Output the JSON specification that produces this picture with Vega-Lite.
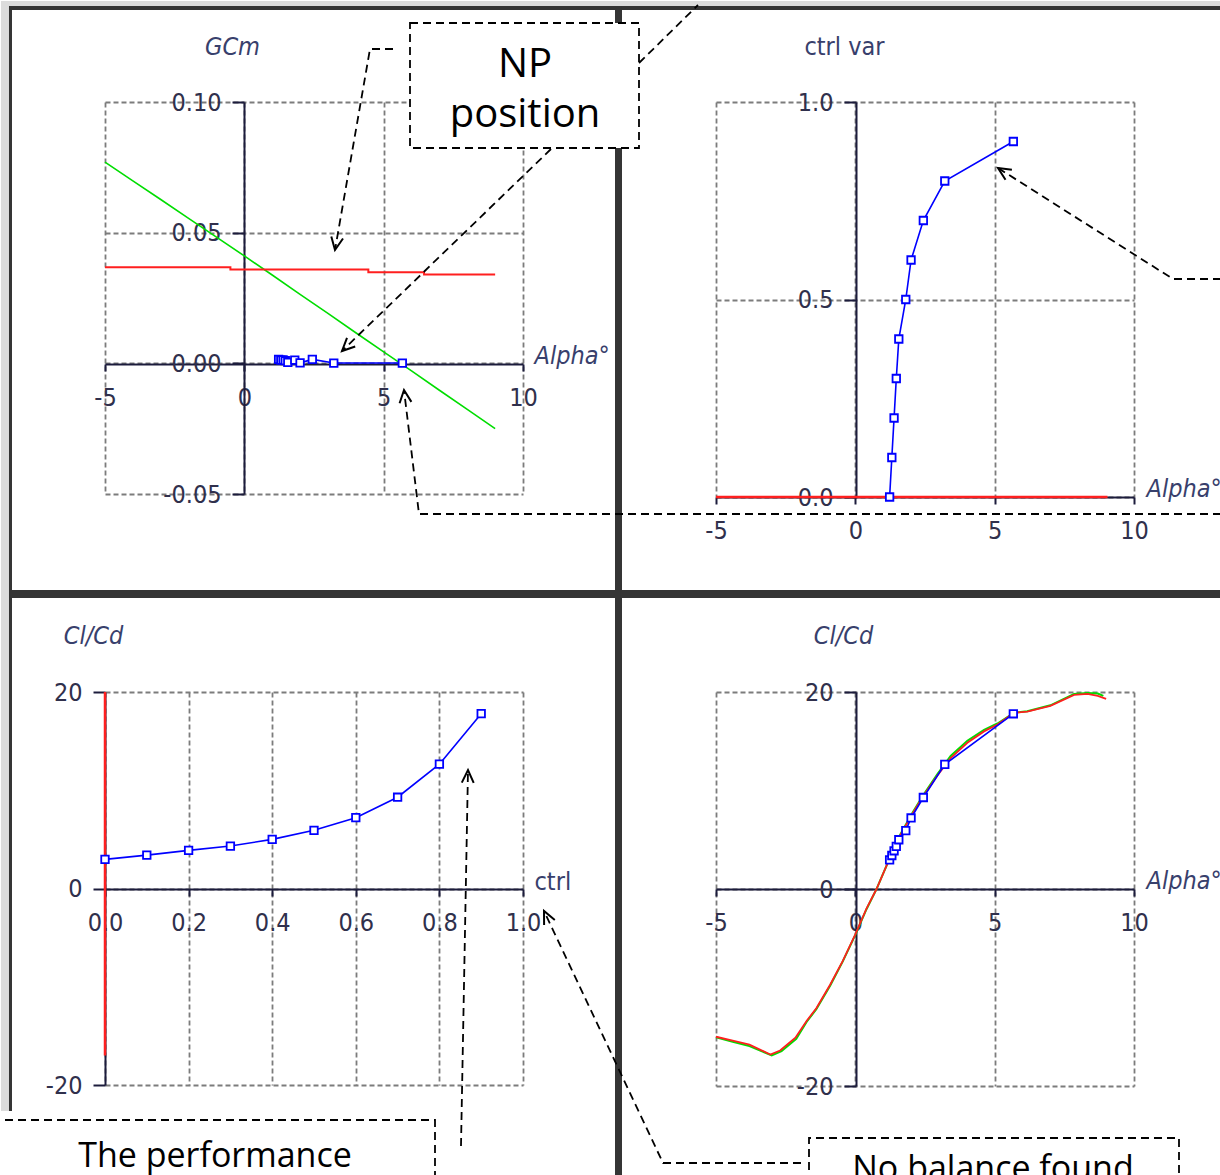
{
  "$schema": "https://vega.github.io/schema/vega-lite/v6.json",
  "padding": 0,
  "autosize": {"type": "pad"},
  "background": "white",
  "columns": 2,
  "spacing": {"row": 195, "column": 193},
  "bounds": "flush",
  "config": {
    "view": {"stroke": null},
    "axis": {
      "domainColor": "#1c1c3c", "domainWidth": 2, "tickColor": "#1c1c3c", "tickWidth": 2,
      "gridColor": "#7c7c7c", "gridDash": [5, 3], "gridWidth": 1.8,
      "labelFont": "DejaVu Sans Condensed", "labelFontSize": 25, "labelColor": "#30304c",
      "labelFlush": false, "labelOverlap": false, "labelBound": false,
      "titleFont": "DejaVu Sans Condensed", "titleFontSize": 25, "titleFontWeight": "normal",
      "titleColor": "#38406c", "titleAngle": 0
    },
    "axisX": {"tickSize": 7, "labelPadding": 14, "titleAlign": "left", "titleBaseline": "alphabetic"},
    "axisY": {"tickSize": 12, "labelPadding": 11, "titleAlign": "center", "titleBaseline": "middle"}
  },
  "datasets": {
    "pts": [
      {"ctrl": 0.0, "alpha": 1.23, "gcm": 0.0015, "clcd": 2.96},
      {"ctrl": 0.1, "alpha": 1.31, "gcm": 0.0012, "clcd": 3.40},
      {"ctrl": 0.2, "alpha": 1.39, "gcm": 0.0013, "clcd": 3.88},
      {"ctrl": 0.3, "alpha": 1.47, "gcm": 0.0010, "clcd": 4.32},
      {"ctrl": 0.4, "alpha": 1.56, "gcm": 0.0004, "clcd": 5.00},
      {"ctrl": 0.5, "alpha": 1.81, "gcm": 0.0012, "clcd": 5.92},
      {"ctrl": 0.6, "alpha": 2.00, "gcm": 0.0002, "clcd": 7.21},
      {"ctrl": 0.7, "alpha": 2.44, "gcm": 0.0015, "clcd": 9.29},
      {"ctrl": 0.8, "alpha": 3.21, "gcm": 0.0001, "clcd": 12.65},
      {"ctrl": 0.9, "alpha": 5.67, "gcm": 0.0001, "clcd": 17.79}
    ],
    "p1c": [
      {"s": "g", "i": 0, "alpha": -5, "cm": 0.0770},
      {"s": "g", "i": 1, "alpha": -4, "cm": 0.0698},
      {"s": "g", "i": 2, "alpha": -3, "cm": 0.0627},
      {"s": "g", "i": 3, "alpha": -2, "cm": 0.0555},
      {"s": "g", "i": 4, "alpha": -1, "cm": 0.0483},
      {"s": "g", "i": 5, "alpha": 0, "cm": 0.0411},
      {"s": "g", "i": 6, "alpha": 1, "cm": 0.0338},
      {"s": "g", "i": 7, "alpha": 2, "cm": 0.0264},
      {"s": "g", "i": 8, "alpha": 3, "cm": 0.0191},
      {"s": "g", "i": 9, "alpha": 4, "cm": 0.0117},
      {"s": "g", "i": 10, "alpha": 5, "cm": 0.0044},
      {"s": "g", "i": 11, "alpha": 6, "cm": -0.0029},
      {"s": "g", "i": 12, "alpha": 7, "cm": -0.0103},
      {"s": "g", "i": 13, "alpha": 8, "cm": -0.0176},
      {"s": "g", "i": 14, "alpha": 9, "cm": -0.0250},
      {"s": "r", "i": 0, "alpha": -5, "cm": 0.0368},
      {"s": "r", "i": 1, "alpha": -0.5, "cm": 0.0368},
      {"s": "r", "i": 2, "alpha": -0.5, "cm": 0.0359},
      {"s": "r", "i": 3, "alpha": 4.45, "cm": 0.0359},
      {"s": "r", "i": 4, "alpha": 4.45, "cm": 0.0349},
      {"s": "r", "i": 5, "alpha": 6.45, "cm": 0.0349},
      {"s": "r", "i": 6, "alpha": 6.45, "cm": 0.0340},
      {"s": "r", "i": 7, "alpha": 9.0, "cm": 0.0340}
    ],
    "p4c": [
      {"s": "g", "i": 0, "alpha": -5.0, "clcd": -15.05},
      {"s": "g", "i": 1, "alpha": -4.4, "clcd": -15.5},
      {"s": "g", "i": 2, "alpha": -3.8, "clcd": -15.95},
      {"s": "g", "i": 3, "alpha": -3.0, "clcd": -16.9},
      {"s": "g", "i": 4, "alpha": -2.65, "clcd": -16.45},
      {"s": "g", "i": 5, "alpha": -2.12, "clcd": -15.2},
      {"s": "g", "i": 6, "alpha": -1.75, "clcd": -13.5},
      {"s": "g", "i": 7, "alpha": -1.4, "clcd": -12.2},
      {"s": "g", "i": 8, "alpha": -0.9, "clcd": -9.8},
      {"s": "g", "i": 9, "alpha": -0.45, "clcd": -7.35},
      {"s": "g", "i": 10, "alpha": 0.0, "clcd": -4.65},
      {"s": "g", "i": 11, "alpha": 0.4, "clcd": -2.05},
      {"s": "g", "i": 12, "alpha": 0.76, "clcd": -0.02},
      {"s": "g", "i": 13, "alpha": 1.14, "clcd": 2.5},
      {"s": "g", "i": 14, "alpha": 1.56, "clcd": 5.25},
      {"s": "g", "i": 15, "alpha": 2.04, "clcd": 7.7},
      {"s": "g", "i": 16, "alpha": 2.44, "clcd": 9.55},
      {"s": "g", "i": 17, "alpha": 2.94, "clcd": 11.65},
      {"s": "g", "i": 18, "alpha": 3.42, "clcd": 13.5},
      {"s": "g", "i": 19, "alpha": 4.02, "clcd": 15.05},
      {"s": "g", "i": 20, "alpha": 4.62, "clcd": 16.15},
      {"s": "g", "i": 21, "alpha": 5.1, "clcd": 16.8},
      {"s": "g", "i": 22, "alpha": 5.7, "clcd": 17.9},
      {"s": "g", "i": 23, "alpha": 6.17, "clcd": 18.05},
      {"s": "g", "i": 24, "alpha": 7.0, "clcd": 18.65},
      {"s": "g", "i": 25, "alpha": 7.85, "clcd": 19.8},
      {"s": "g", "i": 26, "alpha": 8.33, "clcd": 19.9},
      {"s": "g", "i": 27, "alpha": 8.7, "clcd": 19.85},
      {"s": "g", "i": 28, "alpha": 8.9, "clcd": 19.6},
      {"s": "r", "i": 0, "alpha": -5.0, "clcd": -15.0},
      {"s": "r", "i": 1, "alpha": -4.4, "clcd": -15.4},
      {"s": "r", "i": 2, "alpha": -3.8, "clcd": -15.8},
      {"s": "r", "i": 3, "alpha": -3.05, "clcd": -16.8},
      {"s": "r", "i": 4, "alpha": -2.7, "clcd": -16.4},
      {"s": "r", "i": 5, "alpha": -2.15, "clcd": -15.1},
      {"s": "r", "i": 6, "alpha": -1.75, "clcd": -13.4},
      {"s": "r", "i": 7, "alpha": -1.4, "clcd": -12.1},
      {"s": "r", "i": 8, "alpha": -0.9, "clcd": -9.7},
      {"s": "r", "i": 9, "alpha": -0.45, "clcd": -7.3},
      {"s": "r", "i": 10, "alpha": 0.0, "clcd": -4.6},
      {"s": "r", "i": 11, "alpha": 0.4, "clcd": -2.0},
      {"s": "r", "i": 12, "alpha": 0.76, "clcd": 0.0},
      {"s": "r", "i": 13, "alpha": 1.14, "clcd": 2.5},
      {"s": "r", "i": 14, "alpha": 1.56, "clcd": 5.2},
      {"s": "r", "i": 15, "alpha": 2.04, "clcd": 7.6},
      {"s": "r", "i": 16, "alpha": 2.44, "clcd": 9.44},
      {"s": "r", "i": 17, "alpha": 2.94, "clcd": 11.5},
      {"s": "r", "i": 18, "alpha": 3.42, "clcd": 13.3},
      {"s": "r", "i": 19, "alpha": 4.02, "clcd": 14.85},
      {"s": "r", "i": 20, "alpha": 4.62, "clcd": 16.0},
      {"s": "r", "i": 21, "alpha": 5.1, "clcd": 16.7},
      {"s": "r", "i": 22, "alpha": 5.7, "clcd": 17.9},
      {"s": "r", "i": 23, "alpha": 6.17, "clcd": 18.0},
      {"s": "r", "i": 24, "alpha": 7.0, "clcd": 18.6},
      {"s": "r", "i": 25, "alpha": 7.85, "clcd": 19.7},
      {"s": "r", "i": 26, "alpha": 8.33, "clcd": 19.8},
      {"s": "r", "i": 27, "alpha": 8.7, "clcd": 19.6},
      {"s": "r", "i": 28, "alpha": 9.0, "clcd": 19.3}
    ],
    "z2": [{"alpha": -5, "v": 0}, {"alpha": 9.05, "v": 0}],
    "z3": [{"ctrl": 0, "v": 20, "i": 0}, {"ctrl": 0, "v": -17, "i": 1}],
    "frame": [
      {"k": "g", "x": -8.7321, "x2": 35.0479, "y": 0.138648, "y2": 0.136735},
      {"k": "g", "x": -8.7321, "x2": -8.445, "y": 0.138648, "y2": -0.286097},
      {"k": "d", "x": -8.445, "x2": 35.0479, "y": 0.136735, "y2": 0.135204},
      {"k": "d", "x": -8.445, "x2": -8.3373, "y": 0.136735, "y2": -0.286097},
      {"k": "d", "x": 13.3015, "x2": 13.5526, "y": 0.136735, "y2": -0.310969},
      {"k": "d", "x": -8.445, "x2": 35.0479, "y": -0.086735, "y2": -0.089796}
    ],
    "npbox": [{"x": 5.945, "x2": 14.1627, "y": 0.13023, "y2": 0.082398}],
    "t1": [{"t": "NP", "x": 10.0718, "y": 0.109566}, {"t": "position", "x": 10.0718, "y": 0.090625}],
    "d1": [
      {"p": "a", "i": 0, "x": 5.3349, "y": 0.120281}, {"p": "a", "i": 1, "x": 4.5096, "y": 0.120281}, {"p": "a", "i": 2, "x": 3.2536, "y": 0.043367},
      {"p": "b", "i": 0, "x": 11.0048, "y": 0.082015}, {"p": "b", "i": 1, "x": 3.5048, "y": 0.004719},
      {"p": "c", "i": 0, "x": 14.1627, "y": 0.114923}, {"p": "c", "i": 1, "x": 16.2799, "y": 0.137117},
      {"p": "d", "i": 0, "x": 35.0479, "y": -0.057653}, {"p": "d", "i": 1, "x": 6.268, "y": -0.057653}, {"p": "d", "i": 2, "x": 5.7297, "y": -0.010204}
    ],
    "h1": [
      {"p": "a", "i": 0, "x": 3.5407, "y": 0.047768}, {"p": "a", "i": 1, "x": 3.2536, "y": 0.043367}, {"p": "a", "i": 2, "x": 3.1209, "y": 0.048533},
      {"p": "b", "i": 0, "x": 3.9785, "y": 0.006441}, {"p": "b", "i": 1, "x": 3.5048, "y": 0.004719}, {"p": "b", "i": 2, "x": 3.6842, "y": 0.009732},
      {"p": "d", "i": 0, "x": 5.5718, "y": -0.015294}, {"p": "d", "i": 1, "x": 5.7297, "y": -0.010204}, {"p": "d", "i": 2, "x": 5.9952, "y": -0.014758}
    ],
    "d2": [{"p": "e", "i": 0, "x": 13.122, "y": 0.5519}, {"p": "e", "i": 1, "x": 11.3995, "y": 0.5519}, {"p": "e", "i": 2, "x": 5.1196, "y": 0.83291}],
    "h2": [{"p": "e", "i": 0, "x": 5.3888, "y": 0.80304}, {"p": "e", "i": 1, "x": 5.1196, "y": 0.83291}, {"p": "e", "i": 2, "x": 5.6184, "y": 0.82835}],
    "d3": [
      {"p": "f", "i": 0, "x": 0.85167, "y": -26.209}, {"p": "f", "i": 1, "x": 0.86842, "y": 12.061},
      {"p": "g", "i": 0, "x": 1.66507, "y": -27.939}, {"p": "g", "i": 1, "x": 1.33493, "y": -27.939}, {"p": "g", "i": 2, "x": 1.05024, "y": -2.29},
      {"p": "box", "i": 0, "x": -0.23923, "y": -23.562}, {"p": "box", "i": 1, "x": 0.78947, "y": -23.562}, {"p": "box", "i": 2, "x": 0.78947, "y": -29.771}
    ],
    "h3": [
      {"p": "f", "i": 0, "x": 0.85359, "y": 10.779}, {"p": "f", "i": 1, "x": 0.86842, "y": 12.061}, {"p": "f", "i": 2, "x": 0.88206, "y": 10.758},
      {"p": "g", "i": 0, "x": 1.05048, "y": -3.715}, {"p": "g", "i": 1, "x": 1.05024, "y": -2.29}, {"p": "g", "i": 2, "x": 1.07608, "y": -3.196}
    ],
    "t3": [{"t": "The performance", "x": 0.26316, "y": -28.346}],
    "d4": [
      {"p": "box", "i": 0, "x": -1.6627, "y": -31.168}, {"p": "box", "i": 1, "x": -1.6627, "y": -25.279},
      {"p": "box", "i": 2, "x": 11.6148, "y": -25.279}, {"p": "box", "i": 3, "x": 11.6148, "y": -31.168}
    ],
    "t4": [{"t": "No balance found", "x": 4.9402, "y": -29.543}]
  },
  "concat": [
    {
      "width": 418, "height": 392,
      "layer": [
        {
          "data": {"name": "frame"},
          "mark": {"type": "rect", "clip": false},
          "encoding": {
            "x": {"field": "x", "type": "quantitative", "scale": {"domain": [-5, 10], "nice": false, "zero": false},
                  "axis": {"offset": -130, "values": [-5, 0, 5, 10], "title": "Alpha°", "titleX": 429, "titleY": -1, "titleFontStyle": "italic",
                           "labelExpr": "replace(format(datum.value, 'd'), '\u2212', '-')"}},
            "x2": {"field": "x2"},
            "y": {"field": "y", "type": "quantitative", "scale": {"domain": [-0.05, 0.1], "nice": false, "zero": false},
                  "axis": {"offset": -139, "values": [-0.05, 0, 0.05, 0.1], "title": "GCm", "titleX": -12, "titleY": -56, "titleFontStyle": "italic",
                           "labelExpr": "replace(format(datum.value, '.2f'), '\u2212', '-')"}},
            "y2": {"field": "y2"},
            "color": {"field": "k", "type": "nominal", "scale": {"domain": ["g", "d"], "range": ["#dcdcdc", "#353535"]}, "legend": null}
          }
        },
        {
          "data": {"name": "p1c"},
          "transform": [{"filter": {"field": "s", "equal": "g"}}],
          "mark": {"type": "line", "color": "#00dd00", "strokeWidth": 1.6, "clip": false},
          "encoding": {
            "x": {"field": "alpha", "type": "quantitative", "scale": {"domain": [-5, 10], "nice": false, "zero": false}},
            "y": {"field": "cm", "type": "quantitative", "scale": {"domain": [-0.05, 0.1], "nice": false, "zero": false}},
            "order": {"field": "i"}
          }
        },
        {
          "data": {"name": "p1c"},
          "transform": [{"filter": {"field": "s", "equal": "r"}}],
          "mark": {"type": "line", "color": "#ff1f1f", "strokeWidth": 2, "clip": false},
          "encoding": {
            "x": {"field": "alpha", "type": "quantitative", "scale": {"domain": [-5, 10], "nice": false, "zero": false}},
            "y": {"field": "cm", "type": "quantitative", "scale": {"domain": [-0.05, 0.1], "nice": false, "zero": false}},
            "order": {"field": "i"}
          }
        },
        {
          "data": {"name": "pts"},
          "mark": {"type": "line", "color": "#0000ff", "strokeWidth": 1.6},
          "encoding": {
            "x": {"field": "alpha", "type": "quantitative", "scale": {"domain": [-5, 10], "nice": false, "zero": false}},
            "y": {"field": "gcm", "type": "quantitative", "scale": {"domain": [-0.05, 0.1], "nice": false, "zero": false}},
            "order": {"field": "ctrl"}
          }
        },
        {
          "data": {"name": "pts"},
          "mark": {"type": "point", "shape": "square", "size": 56, "filled": false, "fill": "white", "fillOpacity": 1, "stroke": "#0000ff", "strokeWidth": 1.8, "opacity": 1},
          "encoding": {
            "x": {"field": "alpha", "type": "quantitative", "scale": {"domain": [-5, 10], "nice": false, "zero": false}},
            "y": {"field": "gcm", "type": "quantitative", "scale": {"domain": [-0.05, 0.1], "nice": false, "zero": false}}
          }
        },
        {
          "data": {"name": "npbox"},
          "mark": {"type": "rect", "fill": "white", "stroke": "black", "strokeWidth": 1.8, "strokeDash": [8, 5], "clip": false},
          "encoding": {
            "x": {"field": "x", "type": "quantitative", "scale": {"domain": [-5, 10], "nice": false, "zero": false}},
            "x2": {"field": "x2"},
            "y": {"field": "y", "type": "quantitative", "scale": {"domain": [-0.05, 0.1], "nice": false, "zero": false}},
            "y2": {"field": "y2"}
          }
        },
        {
          "data": {"name": "t1"},
          "mark": {"type": "text", "font": "Open Sans", "fontSize": 40, "align": "center", "baseline": "alphabetic", "color": "black", "clip": false},
          "encoding": {
            "x": {"field": "x", "type": "quantitative", "scale": {"domain": [-5, 10], "nice": false, "zero": false}},
            "y": {"field": "y", "type": "quantitative", "scale": {"domain": [-0.05, 0.1], "nice": false, "zero": false}},
            "text": {"field": "t"}
          }
        },
        {
          "data": {"name": "d1"},
          "mark": {"type": "line", "color": "black", "strokeWidth": 1.8, "strokeDash": [8, 5], "clip": false},
          "encoding": {
            "x": {"field": "x", "type": "quantitative", "scale": {"domain": [-5, 10], "nice": false, "zero": false}},
            "y": {"field": "y", "type": "quantitative", "scale": {"domain": [-0.05, 0.1], "nice": false, "zero": false}},
            "detail": {"field": "p"},
            "order": {"field": "i"}
          }
        },
        {
          "data": {"name": "h1"},
          "mark": {"type": "line", "color": "black", "strokeWidth": 2, "clip": false},
          "encoding": {
            "x": {"field": "x", "type": "quantitative", "scale": {"domain": [-5, 10], "nice": false, "zero": false}},
            "y": {"field": "y", "type": "quantitative", "scale": {"domain": [-0.05, 0.1], "nice": false, "zero": false}},
            "detail": {"field": "p"},
            "order": {"field": "i"}
          }
        }
      ]
    },
    {
      "width": 418, "height": 395,
      "layer": [
        {
          "data": {"name": "z2"},
          "mark": {"type": "line", "color": "#ff1f1f", "strokeWidth": 2.5},
          "encoding": {
            "x": {"field": "alpha", "type": "quantitative", "scale": {"domain": [-5, 10], "nice": false, "zero": false},
                  "axis": {"offset": 0, "values": [-5, 0, 5, 10], "title": "Alpha°", "titleX": 430, "titleY": -1, "titleFontStyle": "italic",
                           "labelExpr": "replace(format(datum.value, 'd'), '\u2212', '-')"}},
            "y": {"field": "v", "type": "quantitative", "scale": {"domain": [0, 1], "nice": false, "zero": false},
                  "axis": {"offset": -140, "values": [0, 0.5, 1], "title": "ctrl var", "titleX": -12, "titleY": -56,
                           "labelExpr": "replace(format(datum.value, '.1f'), '\u2212', '-')"}}
          }
        },
        {
          "data": {"name": "pts"},
          "mark": {"type": "line", "color": "#0000ff", "strokeWidth": 1.6},
          "encoding": {
            "x": {"field": "alpha", "type": "quantitative", "scale": {"domain": [-5, 10], "nice": false, "zero": false}},
            "y": {"field": "ctrl", "type": "quantitative", "scale": {"domain": [0, 1], "nice": false, "zero": false}},
            "order": {"field": "ctrl"}
          }
        },
        {
          "data": {"name": "pts"},
          "mark": {"type": "point", "shape": "square", "size": 56, "filled": false, "fill": "white", "fillOpacity": 1, "stroke": "#0000ff", "strokeWidth": 1.8, "opacity": 1},
          "encoding": {
            "x": {"field": "alpha", "type": "quantitative", "scale": {"domain": [-5, 10], "nice": false, "zero": false}},
            "y": {"field": "ctrl", "type": "quantitative", "scale": {"domain": [0, 1], "nice": false, "zero": false}}
          }
        },
        {
          "data": {"name": "d2"},
          "mark": {"type": "line", "color": "black", "strokeWidth": 1.8, "strokeDash": [8, 5], "clip": false},
          "encoding": {
            "x": {"field": "x", "type": "quantitative", "scale": {"domain": [-5, 10], "nice": false, "zero": false}},
            "y": {"field": "y", "type": "quantitative", "scale": {"domain": [0, 1], "nice": false, "zero": false}},
            "detail": {"field": "p"},
            "order": {"field": "i"}
          }
        },
        {
          "data": {"name": "h2"},
          "mark": {"type": "line", "color": "black", "strokeWidth": 2, "clip": false},
          "encoding": {
            "x": {"field": "x", "type": "quantitative", "scale": {"domain": [-5, 10], "nice": false, "zero": false}},
            "y": {"field": "y", "type": "quantitative", "scale": {"domain": [0, 1], "nice": false, "zero": false}},
            "detail": {"field": "p"},
            "order": {"field": "i"}
          }
        }
      ]
    },
    {
      "width": 418, "height": 393,
      "layer": [
        {
          "data": {"name": "z3"},
          "mark": {"type": "line", "color": "#ff1f1f", "strokeWidth": 2.5},
          "encoding": {
            "x": {"field": "ctrl", "type": "quantitative", "scale": {"domain": [0, 1], "nice": false, "zero": false},
                  "axis": {"offset": -196, "values": [0, 0.2, 0.4, 0.6, 0.8, 1], "title": "ctrl", "titleX": 429, "titleY": 0,
                           "labelExpr": "replace(format(datum.value, '.1f'), '\u2212', '-')"}},
            "y": {"field": "v", "type": "quantitative", "scale": {"domain": [-20, 20], "nice": false, "zero": false},
                  "axis": {"offset": 0, "values": [-20, 0, 20], "title": "Cl/Cd", "titleX": -12, "titleY": -57, "titleFontStyle": "italic",
                           "labelExpr": "replace(format(datum.value, 'd'), '\u2212', '-')"}},
            "order": {"field": "i"}
          }
        },
        {
          "data": {"name": "pts"},
          "mark": {"type": "line", "color": "#0000ff", "strokeWidth": 1.6},
          "encoding": {
            "x": {"field": "ctrl", "type": "quantitative", "scale": {"domain": [0, 1], "nice": false, "zero": false}},
            "y": {"field": "clcd", "type": "quantitative", "scale": {"domain": [-20, 20], "nice": false, "zero": false}},
            "order": {"field": "ctrl"}
          }
        },
        {
          "data": {"name": "pts"},
          "mark": {"type": "point", "shape": "square", "size": 56, "filled": false, "fill": "white", "fillOpacity": 1, "stroke": "#0000ff", "strokeWidth": 1.8, "opacity": 1},
          "encoding": {
            "x": {"field": "ctrl", "type": "quantitative", "scale": {"domain": [0, 1], "nice": false, "zero": false}},
            "y": {"field": "clcd", "type": "quantitative", "scale": {"domain": [-20, 20], "nice": false, "zero": false}}
          }
        },
        {
          "data": {"name": "d3"},
          "mark": {"type": "line", "color": "black", "strokeWidth": 1.8, "strokeDash": [8, 5], "clip": false},
          "encoding": {
            "x": {"field": "x", "type": "quantitative", "scale": {"domain": [0, 1], "nice": false, "zero": false}},
            "y": {"field": "y", "type": "quantitative", "scale": {"domain": [-20, 20], "nice": false, "zero": false}},
            "detail": {"field": "p"},
            "order": {"field": "i"}
          }
        },
        {
          "data": {"name": "h3"},
          "mark": {"type": "line", "color": "black", "strokeWidth": 2, "clip": false},
          "encoding": {
            "x": {"field": "x", "type": "quantitative", "scale": {"domain": [0, 1], "nice": false, "zero": false}},
            "y": {"field": "y", "type": "quantitative", "scale": {"domain": [-20, 20], "nice": false, "zero": false}},
            "detail": {"field": "p"},
            "order": {"field": "i"}
          }
        },
        {
          "data": {"name": "t3"},
          "mark": {"type": "text", "font": "Open Sans", "fontSize": 34, "align": "center", "baseline": "alphabetic", "color": "black", "clip": false},
          "encoding": {
            "x": {"field": "x", "type": "quantitative", "scale": {"domain": [0, 1], "nice": false, "zero": false}},
            "y": {"field": "y", "type": "quantitative", "scale": {"domain": [-20, 20], "nice": false, "zero": false}},
            "text": {"field": "t"}
          }
        }
      ]
    },
    {
      "width": 418, "height": 394,
      "layer": [
        {
          "data": {"name": "p4c"},
          "transform": [{"filter": {"field": "s", "equal": "g"}}],
          "mark": {"type": "line", "color": "#00dd00", "strokeWidth": 2},
          "encoding": {
            "x": {"field": "alpha", "type": "quantitative", "scale": {"domain": [-5, 10], "nice": false, "zero": false},
                  "axis": {"offset": -197, "values": [-5, 0, 5, 10], "title": "Alpha°", "titleX": 430, "titleY": -1, "titleFontStyle": "italic",
                           "labelExpr": "replace(format(datum.value, 'd'), '\u2212', '-')"}},
            "y": {"field": "clcd", "type": "quantitative", "scale": {"domain": [-20, 20], "nice": false, "zero": false},
                  "axis": {"offset": -140, "values": [-20, 0, 20], "title": "Cl/Cd", "titleX": -13, "titleY": -57, "titleFontStyle": "italic",
                           "labelExpr": "replace(format(datum.value, 'd'), '\u2212', '-')"}},
            "order": {"field": "i"}
          }
        },
        {
          "data": {"name": "p4c"},
          "transform": [{"filter": {"field": "s", "equal": "r"}}],
          "mark": {"type": "line", "color": "#ff1f1f", "strokeWidth": 1.8},
          "encoding": {
            "x": {"field": "alpha", "type": "quantitative", "scale": {"domain": [-5, 10], "nice": false, "zero": false}},
            "y": {"field": "clcd", "type": "quantitative", "scale": {"domain": [-20, 20], "nice": false, "zero": false}},
            "order": {"field": "i"}
          }
        },
        {
          "data": {"name": "pts"},
          "mark": {"type": "line", "color": "#0000ff", "strokeWidth": 1.6},
          "encoding": {
            "x": {"field": "alpha", "type": "quantitative", "scale": {"domain": [-5, 10], "nice": false, "zero": false}},
            "y": {"field": "clcd", "type": "quantitative", "scale": {"domain": [-20, 20], "nice": false, "zero": false}},
            "order": {"field": "ctrl"}
          }
        },
        {
          "data": {"name": "pts"},
          "mark": {"type": "point", "shape": "square", "size": 56, "filled": false, "fill": "white", "fillOpacity": 1, "stroke": "#0000ff", "strokeWidth": 1.8, "opacity": 1},
          "encoding": {
            "x": {"field": "alpha", "type": "quantitative", "scale": {"domain": [-5, 10], "nice": false, "zero": false}},
            "y": {"field": "clcd", "type": "quantitative", "scale": {"domain": [-20, 20], "nice": false, "zero": false}}
          }
        },
        {
          "data": {"name": "d4"},
          "mark": {"type": "line", "color": "black", "strokeWidth": 1.8, "strokeDash": [8, 5], "clip": false},
          "encoding": {
            "x": {"field": "x", "type": "quantitative", "scale": {"domain": [-5, 10], "nice": false, "zero": false}},
            "y": {"field": "y", "type": "quantitative", "scale": {"domain": [-20, 20], "nice": false, "zero": false}},
            "detail": {"field": "p"},
            "order": {"field": "i"}
          }
        },
        {
          "data": {"name": "t4"},
          "mark": {"type": "text", "font": "Open Sans", "fontSize": 34, "align": "center", "baseline": "alphabetic", "color": "black", "clip": false},
          "encoding": {
            "x": {"field": "x", "type": "quantitative", "scale": {"domain": [-5, 10], "nice": false, "zero": false}},
            "y": {"field": "y", "type": "quantitative", "scale": {"domain": [-20, 20], "nice": false, "zero": false}},
            "text": {"field": "t"}
          }
        }
      ]
    }
  ]
}
